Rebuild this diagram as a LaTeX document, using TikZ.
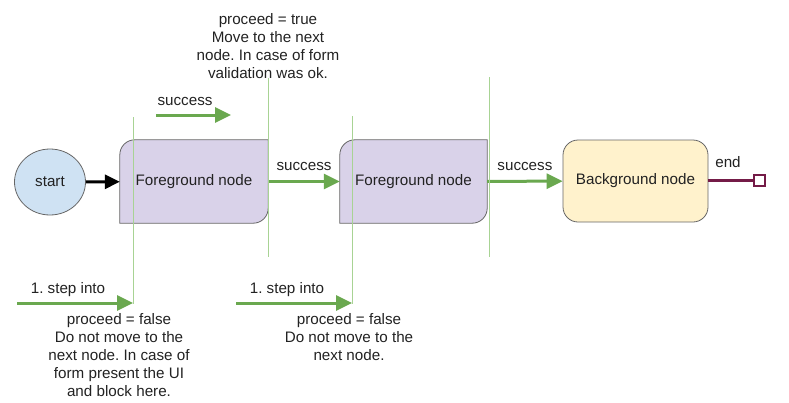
\documentclass[tikz,border=0pt]{standalone}
\usepackage{fontspec}
\setmainfont{Liberation Sans}
\frenchspacing
\usetikzlibrary{shapes.geometric,arrows.meta,backgrounds}
\definecolor{startfill}{HTML}{CFE2F3}
\definecolor{fgfill}{HTML}{D9D2E9}
\definecolor{bgfill}{HTML}{FFF2CC}
\definecolor{bordergray}{HTML}{666666}
\definecolor{arrowgreen}{HTML}{6AA84F}
\definecolor{guidegreen}{HTML}{A8D394}
\definecolor{endmaroon}{HTML}{741B47}
\definecolor{txt}{HTML}{222222}
\tikzset{
  x=1pt, y=-1pt,
  every node/.style={font=\fontsize{15.2}{18}\selectfont\frenchspacing, text=txt, inner sep=0pt},
  startnode/.style={ellipse, draw=bordergray, fill=startfill, line width=0.8pt, minimum width=71pt, minimum height=66pt},
  fgbox/.style={rectangle, minimum width=148pt, minimum height=83pt},
  fgshape/.style={draw=bordergray, fill=fgfill, line width=0.8pt},
  bgbox/.style={rectangle, rounded corners=15pt, draw=bordergray, fill=bgfill, line width=0.8pt, minimum width=145pt, minimum height=82pt},
  greenarrow/.style={draw=arrowgreen, line width=3pt, -{Triangle[length=16pt,width=15pt]}},
  blackarrow/.style={draw=black, line width=3pt, -{Triangle[length=15pt,width=14pt]}},
  guide/.style={draw=guidegreen, line width=1pt},
  endline/.style={draw=endmaroon, line width=3pt},
  endsq/.style={rectangle, draw=endmaroon, fill=white, line width=2.5pt, minimum width=11pt, minimum height=11pt},
  lbl/.style={align=center},
}
\newcommand{\fgoutline}[1]{%
  \begin{scope}[on background layer]
  \path[fgshape] (#1.south west) -- ([yshift=-15pt]#1.north west)
     .. controls ([yshift=-6.7pt]#1.north west) and ([xshift=6.7pt]#1.north west) .. ([xshift=15pt]#1.north west)
     -- (#1.north east) -- ([yshift=15pt]#1.south east)
     .. controls ([yshift=6.7pt]#1.south east) and ([xshift=-6.7pt]#1.south east) .. ([xshift=-15pt]#1.south east) -- cycle;
  \end{scope}}
\begin{document}
\begin{tikzpicture}
\useasboundingbox (0,0) rectangle (789,402);

% nodes
\node[startnode] (start) at (50,182) {start};
\node[fgbox] (f1) at (194,181.5) {Foreground node};
\fgoutline{f1}
\node[fgbox, minimum width=147pt] (f2) at (413.5,181.5) {Foreground node};
\fgoutline{f2}
\node[bgbox] (bg) at (635.5,181) {Background node};
\node[endsq] (endsq) at (759.5,180.5) {};

% connectors
\draw[blackarrow] (start) -- (f1);
\draw[greenarrow] (f1) -- node[above=9pt] {success} (f2);
\draw[greenarrow] (f2) -- node[above=9pt] {success} (bg);
\draw[endline] (bg.east |- endsq) -- (endsq);
\node at (728,162) {end};

% guide lines
\coordinate (g1t) at (133,117); \coordinate (g1b) at (133,304);
\coordinate (g2t) at (268,78);  \coordinate (g2b) at (268,257);
\coordinate (g3t) at (352,116); \coordinate (g3b) at (352,304);
\coordinate (g4t) at (489,77);  \coordinate (g4b) at (489,257);
\draw[guide] (g1t) -- (g1b);
\draw[guide] (g2t) -- (g2b);
\draw[guide] (g3t) -- (g3b);
\draw[guide] (g4t) -- (g4b);

% free arrows
\coordinate (a1s) at (156,115); \coordinate (a1e) at (231,115);
\draw[greenarrow] (a1s) -- (a1e);
\node at (185,101) {success};

\coordinate (a2s) at (17,303); \coordinate (a2e) at (133,303);
\draw[greenarrow] (a2s) -- (a2e);
\node at (68,290) {1. step into};

\coordinate (a3s) at (236,303); \coordinate (a3e) at (352,303);
\draw[greenarrow] (a3s) -- (a3e);
\node at (287,290) {1. step into};

% annotations
\node[lbl] (ttop) at (268,46) {proceed = true\\Move to the next\\node. In case of form\\validation was ok.};
\node[lbl] (tbl) at (119,355) {proceed = false\\Do not move to the\\next node. In case of\\form present the UI\\and block here.};
\node[lbl] (tbr) at (349,337) {proceed = false\\Do not move to the\\next node.};
\end{tikzpicture}
\end{document}
